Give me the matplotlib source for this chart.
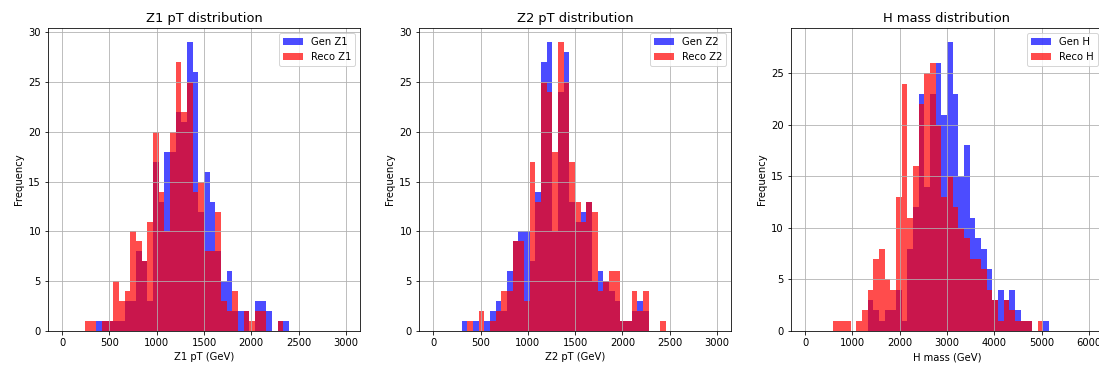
import numpy as np
import matplotlib
matplotlib.use("Agg")
import matplotlib.pyplot as plt

# bin edges (50 bins each)
z_edges = np.linspace(0, 3000, 51)
h_edges = np.linspace(0, 6000, 51)

# counts per bin
gen_z1 = [0, 0, 0, 0, 0, 0, 1, 1, 1, 1, 1, 3, 3, 8, 7, 3, 17, 13, 18, 18,
          22, 21, 29, 26, 12, 16, 13, 8, 5, 6, 2, 2, 2, 0, 3, 3, 2, 0, 1, 1,
          0, 0, 0, 0, 0, 0, 0, 0, 0, 0]
reco_z1 = [0, 0, 0, 0, 1, 1, 0, 1, 1, 5, 3, 4, 10, 9, 7, 11, 20, 14, 10, 20,
           27, 22, 25, 14, 15, 8, 8, 12, 3, 2, 4, 0, 2, 1, 2, 2, 0, 0, 1, 0,
           0, 0, 0, 0, 0, 0, 0, 0, 0, 0]

gen_z2 = [0, 0, 0, 0, 0, 1, 0, 1, 0, 1, 2, 3, 2, 6, 9, 10, 10, 7, 14, 27,
          29, 10, 24, 28, 13, 11, 12, 13, 5, 6, 5, 4, 3, 1, 1, 2, 3, 2, 0, 0,
          0, 0, 0, 0, 0, 0, 0, 0, 0, 0]
reco_z2 = [0, 0, 0, 0, 0, 0, 1, 0, 2, 0, 1, 2, 4, 4, 9, 9, 3, 17, 13, 25,
           24, 18, 29, 25, 17, 13, 11, 13, 12, 4, 5, 6, 6, 1, 1, 4, 2, 4, 0, 0,
           1, 0, 0, 0, 0, 0, 0, 0, 0, 0]

gen_h = [0, 0, 0, 0, 0, 0, 0, 0, 0, 0, 0, 3, 2, 1, 2, 2, 4, 1, 8, 12,
         23, 14, 23, 26, 21, 28, 23, 15, 18, 11, 9, 8, 6, 3, 4, 3, 4, 2, 1, 1,
         0, 0, 1, 0, 0, 0, 0, 0, 0, 0]
reco_h = [0, 0, 0, 0, 0, 1, 1, 1, 0, 1, 2, 4, 7, 8, 5, 4, 13, 24, 11, 16,
          22, 25, 26, 20, 13, 15, 12, 10, 9, 7, 7, 6, 4, 3, 1, 3, 2, 1, 1, 1,
          0, 1, 0, 0, 0, 0, 0, 0, 0, 0]

panels = [
    ("Z1 pT distribution", "Z1 pT (GeV)", z_edges, gen_z1, reco_z1, "Gen Z1", "Reco Z1"),
    ("Z2 pT distribution", "Z2 pT (GeV)", z_edges, gen_z2, reco_z2, "Gen Z2", "Reco Z2"),
    ("H mass distribution", "H mass (GeV)", h_edges, gen_h, reco_h, "Gen H", "Reco H"),
]

fig = plt.figure(figsize=(1099 / 72, 367 / 72), dpi=72)
lefts = [0.0437, 0.3813, 0.7197]
for i, (title, xlabel, edges, gen, reco, lg, lr) in enumerate(panels):
    ax = fig.add_axes([lefts[i], 0.098, 0.2839, 0.826])
    centers = 0.5 * (edges[:-1] + edges[1:])
    ax.hist(centers, bins=edges, weights=gen, color="blue", alpha=0.7, label=lg)
    ax.hist(centers, bins=edges, weights=reco, color="red", alpha=0.7, label=lr)
    ax.set_title(title, fontsize=13)
    ax.set_xlabel(xlabel)
    ax.set_ylabel("Frequency")
    ax.legend(loc="upper right")
    ax.grid(True)

fig.savefig("out.png", dpi=72)
